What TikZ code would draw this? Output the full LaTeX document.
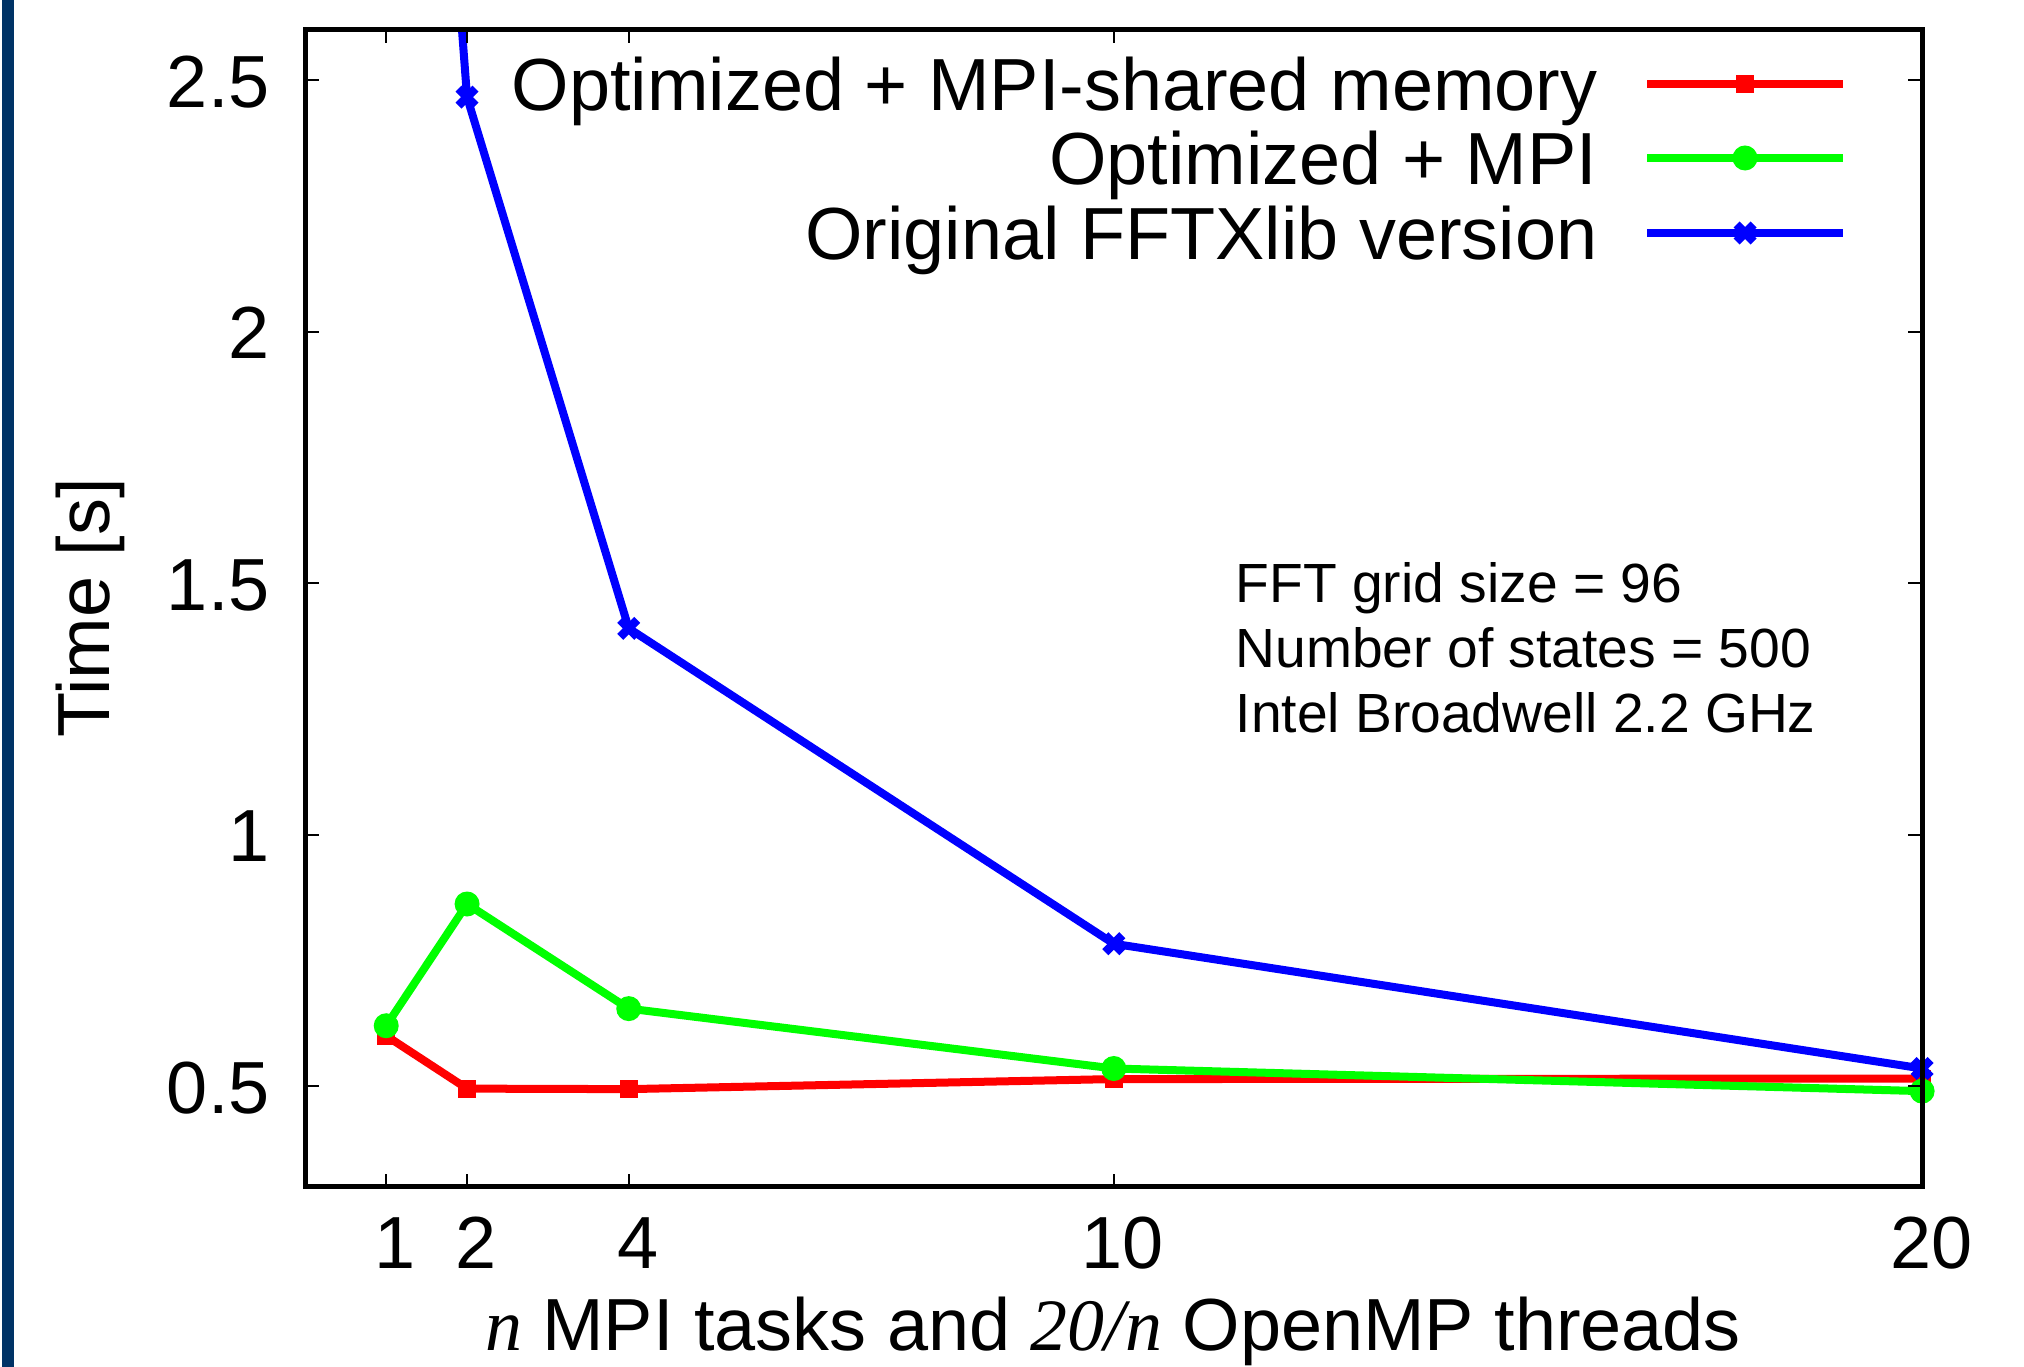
\documentclass[tikz,border=0pt]{standalone}
\usepackage{fontspec}
\setmainfont{Liberation Sans}
\newfontfamily\tmsfont{Liberation Serif}
\definecolor{navybar}{RGB}{0,51,102}
\begin{document}
\begin{tikzpicture}[x=0.01cm,y=-0.01cm,
  lbl/.style={inner sep=0pt, font=\fontsize{21pt}{25pt}\selectfont},
  note/.style={inner sep=0pt, anchor=base west, font=\fontsize{15.7pt}{19pt}\selectfont},
  dataline/.style={line width=0.08cm, line join=round},
  tickline/.style={line width=0.02cm},
  frameline/.style={line width=0.05cm},
  sqm/.pic={\fill[red] (-0.09cm,-0.09cm) rectangle (0.09cm,0.09cm);},
  cim/.pic={\fill[green] (0cm,0cm) circle[radius=0.125cm];},
  xm/.pic={\draw[blue,line width=0.085cm] (-0.085cm,-0.085cm) -- (0.085cm,0.085cm) (-0.085cm,0.085cm) -- (0.085cm,-0.085cm);}
]
\fill[white] (0,0) rectangle (2024,1367);
\useasboundingbox (0,0) rectangle (2024,1367);
\fill[navybar] (2,0) rectangle (14,1367);

% legend
\node[lbl, anchor=base east] (k1) at (1598,111) {Optimized + MPI-shared memory};
\node[lbl, anchor=base east] (k2) at (1598,185) {Optimized + MPI};
\node[lbl, anchor=base east] (k3) at (1598,260) {Original FFTXlib version};
\draw[dataline, red] (1647,84) -- (1843,84);
\pic at (1745,84) {sqm};
\draw[dataline, green] (1647,158) -- (1843,158);
\pic at (1745,158) {cim};
\draw[dataline, blue] (1647,233) -- (1843,233);
\pic at (1745,233) {xm};

% annotation
\node[note] (n1) at (1235,602) {FFT grid size = 96};
\node[note] (n2) at (1235,667) {Number of states = 500};
\node[note] (n3) at (1235,732) {Intel Broadwell 2.2 GHz};

% axis titles
\node[lbl, rotate=90, anchor=base] (yt) at (110,608) {Time [s]};
\node[lbl, anchor=base] (xt) at (1113,1350) {{\tmsfont\itshape n} MPI tasks and {\tmsfont\itshape 20/n} OpenMP threads};

\begin{scope}[shift={(3.052cm,-13.3685cm)}, x=0.8079cm, y=5.0275cm]
  % red
  \draw[dataline, red] (1,0.600) -- (2,0.495) -- (4,0.494) -- (10,0.514) -- (20,0.515);
  \foreach \p in {(1,0.600),(2,0.495),(4,0.494),(10,0.514),(20,0.515)} \pic at \p {sqm};
  % green
  \draw[dataline, green] (1,0.620) -- (2,0.862) -- (4,0.654) -- (10,0.535) -- (20,0.490);
  \foreach \p in {(1,0.620),(2,0.862),(4,0.654),(10,0.535),(20,0.490)} \pic at \p {cim};
  % blue
  \begin{scope}
    \clip (0,0.3) rectangle (20,2.6);
    \draw[dataline, blue] (1,4.6) -- (2,2.466) -- (4,1.410) -- (10,0.783) -- (20,0.535);
  \end{scope}
  \foreach \p in {(2,2.466),(4,1.410),(10,0.783),(20,0.535)} \pic at \p {xm};

  % tick labels
  \foreach \v/\t [count=\i] in {0.5/0.5,1/1,1.5/1.5,2/2,2.5/2.5}
    \node[lbl, anchor=base east, xshift=-0.35cm, yshift=-0.27cm] (yl\i) at (0,\v) {\t};
  \foreach \u [count=\i] in {1,2,4,10,20}
    \node[lbl, anchor=base, xshift=0.09cm, yshift=-0.82cm] (xl\i) at (\u,0.3) {\u};

  % frame and ticks
  \draw[frameline] (0,0.3) rectangle (20,2.6);
  \foreach \v in {0.5,1,1.5,2,2.5} {
    \draw[tickline] (0,\v) -- ++(0.14cm,0);
    \draw[tickline] (20,\v) -- ++(-0.14cm,0);
  }
  \foreach \u in {1,2,4,10,20} {
    \draw[tickline] (\u,0.3) -- ++(0,0.13cm);
    \draw[tickline] (\u,2.6) -- ++(0,-0.13cm);
  }
\end{scope}
\end{tikzpicture}
\end{document}
